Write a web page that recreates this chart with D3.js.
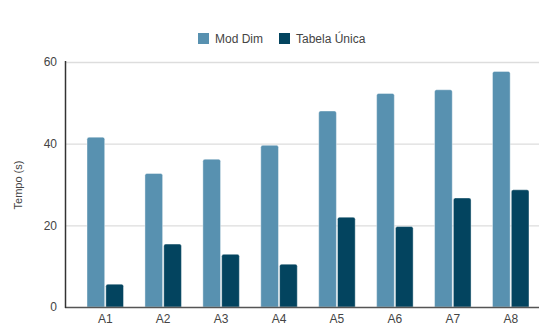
<!DOCTYPE html>
<html>
<head>
<meta charset="utf-8">
<script src="https://cdn.jsdelivr.net/npm/d3@7"></script>
<style>
  body { margin: 0; background: #fff; }
  svg { font-family: "Liberation Sans", Arial, sans-serif; }
</style>
</head>
<body>
<svg id="chart" width="539" height="329"></svg>
<script>
const categories = ['A1', 'A2', 'A3', 'A4', 'A5', 'A6', 'A7', 'A8']
const seriesNames = ['Mod Dim', 'Tabela Única']
const modDim = [41.6, 32.7, 36.2, 39.6, 48.0, 52.3, 53.2, 57.7]
const tabelaUnica = [5.6, 15.4, 12.9, 10.5, 22.0, 19.7, 26.7, 28.7]
const yTicks = [0, 20, 40, 60]
const colors = ['#5891b0', '#03445f']

const width = 539, height = 329
const margin = { left: 65, top: 62, bottom: 307 }

const svg = d3.select('#chart')

const x = d3.scaleBand()
    .domain(categories)
    .range([65, 551])
    .paddingInner(0.37)
    .paddingOuter(0.38)

const x1 = d3.scaleBand()
    .domain(seriesNames)
    .range([0, x.bandwidth()])
    .paddingInner(0.06)

const y = d3.scaleLinear()
    .domain([0, 60])
    .range([margin.bottom, margin.top])

// gridlines
svg.append('g')
    .selectAll('line')
    .data(yTicks.filter(d => d > 0))
    .enter().append('line')
    .attr('x1', margin.left).attr('x2', width)
    .attr('y1', d => y(d) + 0.5).attr('y2', d => y(d) + 0.5)
    .attr('stroke', '#dddddd')
    .attr('stroke-width', 1.3)

// y tick labels
svg.append('g')
    .selectAll('text')
    .data(yTicks)
    .enter().append('text')
    .attr('x', 57)
    .attr('y', d => y(d))
    .attr('dy', '0.35em')
    .attr('text-anchor', 'end')
    .attr('font-size', 12)
    .attr('fill', '#444')
    .text(d => d)

svg.append('text')
    .attr('transform', 'translate(22,185) rotate(-90)')
    .attr('text-anchor', 'middle')
    .attr('font-size', 11)
    .attr('fill', '#444')
    .text('Tempo (s)')

// bars
const data = categories.map((c, i) => ({ cat: c, values: [modDim[i], tabelaUnica[i]] }))

const groups = svg.append('g')
    .selectAll('g')
    .data(data)
    .enter().append('g')
    .attr('transform', d => `translate(${x(d.cat)},0)`)

groups.selectAll('path')
    .data(d => d.values.map((v, j) => ({ name: seriesNames[j], v: v, j: j })))
    .enter().append('path')
    .attr('d', d => {
        const x0 = x1(d.name), w = x1.bandwidth(), top = y(d.v), bot = y(0), r = 2
        return `M${x0},${bot}V${top + r}Q${x0},${top} ${x0 + r},${top}H${x0 + w - r}Q${x0 + w},${top} ${x0 + w},${top + r}V${bot}Z`
    })
    .attr('fill', d => colors[d.j])
    .attr('stroke', '#ffffff')
    .attr('stroke-opacity', 0.5)
    .attr('stroke-width', 0.8)

// axes lines
svg.append('line')
    .attr('x1', margin.left).attr('x2', width)
    .attr('y1', margin.bottom + 0.5).attr('y2', margin.bottom + 0.5)
    .attr('stroke', '#555').attr('stroke-width', 1.3)

svg.append('line')
    .attr('x1', margin.left + 0.5).attr('x2', margin.left + 0.5)
    .attr('y1', margin.top - 1).attr('y2', margin.bottom + 1)
    .attr('stroke', '#333').attr('stroke-width', 1.5)

// x labels
svg.append('g')
    .selectAll('text')
    .data(categories)
    .enter().append('text')
    .attr('x', d => x(d) + x.bandwidth() / 2)
    .attr('y', 323)
    .attr('text-anchor', 'middle')
    .attr('font-size', 12)
    .attr('fill', '#444')
    .text(d => d)

// legend
const legendX = [198, 279]
const legend = svg.append('g')
    .selectAll('g')
    .data(seriesNames)
    .enter().append('g')
    .attr('transform', (d, i) => `translate(${legendX[i]},33)`)

legend.append('rect')
    .attr('width', 11).attr('height', 11)
    .attr('fill', (d, i) => colors[i])

legend.append('text')
    .attr('x', 17).attr('y', 5.5)
    .attr('dy', '0.35em')
    .attr('font-size', 12)
    .attr('fill', '#444')
    .text(d => d)
</script>
</body>
</html>
